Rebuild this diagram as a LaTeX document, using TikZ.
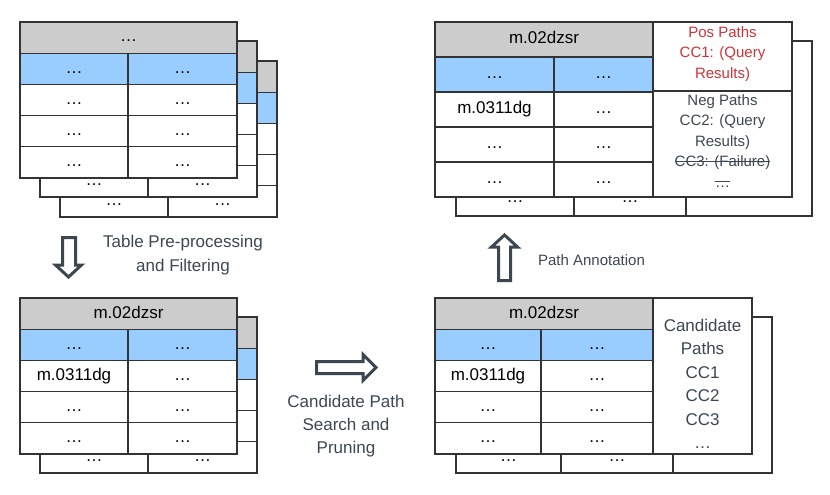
\documentclass[tikz,border=0pt]{standalone}
\usepackage{fontspec}
\setmainfont{Liberation Sans}
\definecolor{hdrgray}{HTML}{CCCCCC}
\definecolor{rowblue}{HTML}{99CCFF}
\definecolor{labelc}{HTML}{3D4752}
\definecolor{posred}{HTML}{CF3339}
\definecolor{edgec}{HTML}{333333}
\newsavebox{\strkbox}
\newcommand{\strk}[1]{\leavevmode\sbox{\strkbox}{#1}\rlap{\rule[0.33em]{\wd\strkbox}{1pt}}\usebox{\strkbox}}
\tikzset{
  cell/.style={draw=edgec, line width=1.1pt, fill=white, inner sep=0pt, outer sep=0pt,
    font=\fontsize{17}{20}\selectfont, text=black, text height=12.4pt, text depth=3.6pt},
  lbl/.style={text=labelc, align=center, inner sep=0pt, font=\fontsize{17}{23.5}\selectfont},
  blockarrow/.style={draw=labelc, line width=3pt, fill=white, line join=miter, miter limit=10},
}
% #1 prefix, #2 x0, #3 y0, #4 xsplit, #5 x1, #6 row height, #7 header, #8 r2c1, #9 r2c2
\newcommand{\mktable}[9]{%
  \node[cell, fill=hdrgray, minimum width={#5-#2}, minimum height={#6}]
    (#1-h) at ({(#2+#5)/2},{#3+0.5*#6}) {#7};
  \foreach \r/\fc/\ta/\tb in {1/rowblue/…/…, 2/white/#8/#9, 3/white/…/…, 4/white/…/…}{%
    \node[cell, fill=\fc, minimum width={#4-#2}, minimum height={#6}]
      (#1-\r-a) at ({(#2+#4)/2},{#3+(\r+0.5)*#6}) {\ta};
    \node[cell, fill=\fc, minimum width={#5-#4}, minimum height={#6}]
      (#1-\r-b) at ({(#4+#5)/2},{#3+(\r+0.5)*#6}) {\tb};
  }%
}
% back table: only the bottom row (the visible strip) carries text
\newcommand{\mkback}[6]{%
  \node[cell, fill=hdrgray, minimum width={#5-#2}, minimum height={#6}]
    (#1-h) at ({(#2+#5)/2},{#3+0.5*#6}) {};
  \foreach \r/\fc/\ta in {1/rowblue/{}, 2/white/{}, 3/white/{}, 4/white/…}{%
    \node[cell, fill=\fc, minimum width={#4-#2}, minimum height={#6}]
      (#1-\r-a) at ({(#2+#4)/2},{#3+(\r+0.5)*#6}) {\ta};
    \node[cell, fill=\fc, minimum width={#5-#4}, minimum height={#6}]
      (#1-\r-b) at ({(#4+#5)/2},{#3+(\r+0.5)*#6}) {\ta};
  }%
}
\begin{document}
\begin{tikzpicture}[x=1pt,y=-1pt]
\useasboundingbox[fill=white] (0,0) rectangle (830,495);

% ---------- top-left stack ----------
\mkback{tlc}{60}{61}{168}{277}{31.2}
\mkback{tlb}{40}{41}{148}{257}{31.2}
\mktable{tla}{20}{22}{128}{237}{31.2}{…}{…}{…}

% ---------- bottom-left stack ----------
\mkback{blb}{40}{317}{148}{257}{31.2}
\mktable{bla}{20}{298}{128}{237}{31.2}{m.02dzsr}{m.0311dg}{…}

% ---------- bottom-right stack ----------
\node[cell, minimum width=99, minimum height=156] (brb-x) at (722.5,395) {};
\mkback{brb}{456}{317}{561}{673}{31.2}
\node[cell, minimum width=99, minimum height=156] (bra-x) at (702.5,376) {};
\mktable{bra}{435}{298}{541}{653}{31.2}{m.02dzsr}{m.0311dg}{…}
\node[lbl] (cand) at (702.5,384) {Candidate\\Paths\\CC1\\CC2\\CC3\\…};

% ---------- top-right stack ----------
\node[cell, minimum width=126, minimum height=175] (trb-x) at (749,128.5) {};
\mkback{trb}{456}{41}{574}{686}{35}
\node[cell, minimum width=139, minimum height=69] (tra-pos) at (722.5,56.5) {};
\node[cell, minimum width=139, minimum height=106] (tra-neg) at (722.5,144) {};
\mktable{tra}{435}{22}{554}{653}{35}{m.02dzsr}{m.0311dg}{…}
\node[lbl, text=posred, font=\fontsize{15}{20.5}\selectfont] (postxt) at (722.5,54)
  {Pos Paths\\CC1: (Query\\Results)};
\node[lbl, font=\fontsize{15}{20.5}\selectfont] (negtxt) at (722.5,141)
  {Neg Paths\\CC2: (Query\\Results)\\\strk{CC3: (Failure)}\\\strk{…}};

% ---------- block arrows ----------
\draw[blockarrow] (62.5,237.5) -- (75.5,237.5) -- (75.5,265) -- (81.5,265)
  -- (68.5,277) -- (55.5,265) -- (62.5,265) -- cycle;
\draw[blockarrow] (316.5,361.5) -- (363,361.5) -- (363,354.5) -- (376,367.5)
  -- (363,380.5) -- (363,373.5) -- (316.5,373.5) -- cycle;
\draw[blockarrow] (498.5,280.5) -- (498.5,247) -- (491.5,247) -- (504.5,235)
  -- (517.5,247) -- (510.5,247) -- (510.5,280.5) -- cycle;

% ---------- labels ----------
\node[lbl, font=\fontsize{17}{24}\selectfont] (l1) at (183,255) {Table Pre-processing\\and Filtering};
\node[lbl, font=\fontsize{17}{23}\selectfont] (l2) at (346,426) {Candidate Path\\Search and\\Pruning};
\node[lbl, font=\fontsize{15}{18}\selectfont] (l3) at (591.5,260) {Path Annotation};
\end{tikzpicture}
\end{document}
